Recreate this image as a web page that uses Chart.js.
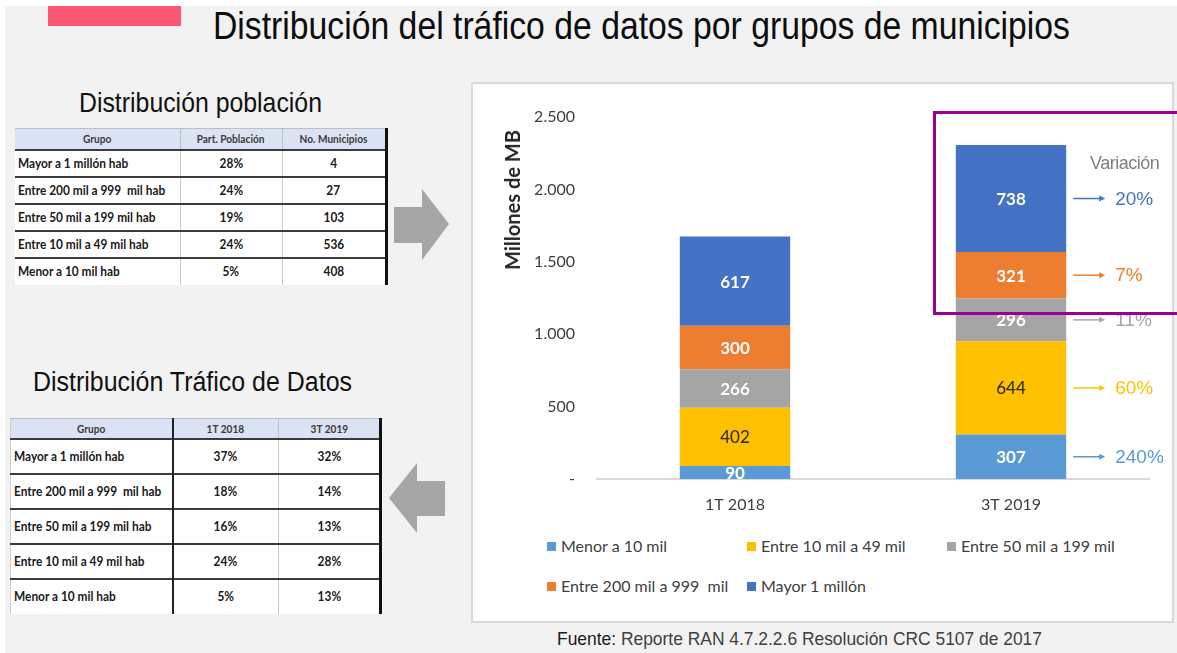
<!DOCTYPE html>
<html lang="es">
<head>
<meta charset="utf-8">
<script src="https://cdn.jsdelivr.net/npm/chart.js@4.4.0/dist/chart.umd.min.js"></script>
<style>
  body { margin: 0; width: 1177px; height: 653px; overflow: hidden; position: relative; background: #fff; font-family: 'Liberation Sans', Arial, sans-serif; }
  .slide { position: absolute; left: 5px; top: 6px; width: 1172px; height: 647px; background: #f2f2f2; }
  .pink { position: absolute; left: 48px; top: 6px; width: 133px; height: 20px; background: #fb5775; }
  .fit { position: absolute; white-space: pre; line-height: 1; transform-origin: left top; }
  .tbl { position: absolute; border-collapse: collapse; table-layout: fixed; font-family: Lato, sans-serif; }
  .tbl th { background: #dae3f3; color: #3a3a3a; font-size: 11.5px; font-weight: bold; border-top: 1px solid #bfbfbf; border-right: 1px solid #bfbfbf; padding: 0; text-align: center; }
  .tbl td { background: #fff; color: #1a1a1a; font-size: 12.5px; font-weight: bold; border-top: 2px solid #3b3b3b; border-right: 1px solid #c8c8c8; padding: 0; text-align: center; white-space: pre; }
  .tbl td:first-child { text-align: left; padding-left: 3px; }
  .tbl span { display: inline-block; transform: scaleX(0.95); }
  .tbl th span { transform: scaleX(0.88); }
  .tbl td:first-child span { transform-origin: left center; }
  .tbl td:last-child, .tbl th:last-child { border-right: 3px solid #111; }
  #t2 td:first-child, #t2 th:first-child { border-right: 2px solid #222; }
  #t2 { border-left: 1px solid #d0d0d0; }
  .panel { position: absolute; left: 471px; top: 82px; width: 699px; height: 537px; background: #fff; border: 2px solid #d9d9d9; }
  #chart { position: absolute; left: 472px; top: 82px; }
  .ytitle { position: absolute; left: 512px; top: 200px; transform: translate(-50%, -50%) rotate(-90deg); font-family: Lato, sans-serif; font-size: 20px; font-weight: bold; color: #262626; white-space: nowrap; }
  .variacion { position: absolute; left: 1090px; top: 153px; font-size: 18px; color: #7f7f7f; letter-spacing: -0.5px; }
  .purple { position: absolute; left: 933px; top: 111px; width: 260px; height: 198px; border: 3px solid #990099; }
  .legend { position: absolute; left: 547px; top: 536px; width: 620px; display: flex; flex-wrap: wrap; font-family: Lato, sans-serif; font-size: 16px; color: #404040; }
  .legend div { width: 200px; height: 40px; display: flex; align-items: flex-start; white-space: pre; line-height: 20px; }
  .legend i { display: inline-block; width: 9px; height: 9px; margin: 6px 5px 0 0; }
</style>
</head>
<body>
<div class="slide"></div>
<div class="pink"></div>
<div class="fit" style="left:213px; top:7px; font-size:38px; color:#0d0d0d;" data-fit="857">Distribución del tráfico de datos por grupos de municipios</div>

<div class="fit" style="left:79px; top:89px; font-size:28px; color:#111;" data-fit="243">Distribución población</div>
<table class="tbl" id="t1" style="left:15px; top:128px;"></table>

<div class="fit" style="left:33px; top:369px; font-size:27px; color:#111;" data-fit="319">Distribución Tráfico de Datos</div>
<table class="tbl" id="t2" style="left:10px; top:418px;"></table>

<svg style="position:absolute; left:0; top:0;" width="1177" height="653">
  <polygon points="394,207 422,207 422,189 449,224 422,260 422,243 394,243" fill="#a6a6a6"/>
  <polygon points="389,498 417,463 417,481 445,481 445,516 417,516 417,533" fill="#a6a6a6"/>
</svg>

<div class="panel"></div>
<canvas id="chart" width="700" height="430"></canvas>
<div class="ytitle">Millones de MB</div>
<div class="variacion">Variación</div>
<div class="purple"></div>
<div class="legend" id="legend"></div>

<div class="fit" style="left:557px; top:629px; font-size:19px; color:#404040;" data-fit="485"><span style="color:#1a1a1a">Fuente:</span> Reporte RAN 4.7.2.2.6 Resolución CRC 5107 de 2017</div>

<script>
// tablas
const grupos = ["Mayor a 1 millón hab", "Entre 200 mil a 999  mil hab", "Entre 50 mil a 199 mil hab", "Entre 10 mil a 49 mil hab", "Menor a 10 mil hab"];
const partPoblacion = ["28%", "24%", "19%", "24%", "5%"];
const noMunicipios = ["4", "27", "103", "536", "408"];
const trafico1T2018 = ["37%", "18%", "16%", "24%", "5%"];
const trafico3T2019 = ["32%", "14%", "13%", "28%", "13%"];

// grafico
const categories = ["1T 2018", "3T 2019"];
const seriesNames = ["Menor a 10 mil", "Entre 10 mil a 49 mil", "Entre 50 mil a 199 mil", "Entre 200 mil a 999  mil", "Mayor 1 millón"];
const menor10 = [90, 307];
const entre10y49 = [402, 644];
const entre50y199 = [266, 296];
const entre200y999 = [300, 321];
const mayor1millon = [617, 738];
const seriesColors = ["#5b9bd5", "#ffc000", "#a5a5a5", "#ed7d31", "#4472c4"];
const yTickLabels = ["-", "500", "1.000", "1.500", "2.000", "2.500"];
const variacion = ["240%", "60%", "11%", "7%", "20%"];

function fillTable(id, headers, cols, widths, headH, rowH) {
  const t = document.getElementById(id);
  let html = "<colgroup>" + widths.map(w => `<col style="width:${w}px">`).join("") + "</colgroup>";
  html += `<tr style="height:${headH}px">` + headers.map(h => `<th><span>${h}</span></th>`).join("") + "</tr>";
  grupos.forEach((g, i) => {
    html += `<tr style="height:${rowH}px">` + cols.map(c => `<td><span>${c[i]}</span></td>`).join("") + "</tr>";
  });
  t.innerHTML = html;
  t.style.width = widths.reduce((a, b) => a + b, 0) + "px";
}
fillTable("t1", ["Grupo", "Part. Población", "No. Municipios"], [grupos, partPoblacion, noMunicipios], [165, 102, 104], 21, 27);
fillTable("t2", ["Grupo", "1T 2018", "3T 2019"], [grupos, trafico1T2018, trafico3T2019], [162, 106, 102], 20, 35);

// leyenda
document.getElementById("legend").innerHTML = seriesNames
  .map((n, i) => `<div><i style="background:${seriesColors[i]}"></i>${n}</div>`).join("");

const seriesData = [menor10, entre10y49, entre50y199, entre200y999, mayor1millon];

const segmentLabels = {
  id: "segmentLabels",
  afterDatasetsDraw(chart) {
    const ctx = chart.ctx;
    ctx.save();
    ctx.textAlign = "center";
    ctx.textBaseline = "middle";
    chart.data.datasets.forEach((ds, i) => {
      chart.getDatasetMeta(i).data.forEach((bar, j) => {
        const yMid = (bar.y + bar.base) / 2;
        const dark = i === 1;
        ctx.font = (dark ? "" : "bold ") + "17px Lato";
        ctx.fillStyle = dark ? "#262626" : "#ffffff";
        ctx.fillText(String(ds.data[j]), bar.x, yMid + 1);
      });
    });
    // flechas de variación junto a la última barra
    const last = categories.length - 1;
    ctx.textAlign = "left";
    ctx.font = "19px 'Liberation Sans'";
    chart.data.datasets.forEach((ds, i) => {
      const bar = chart.getDatasetMeta(i).data[last];
      const y = (bar.y + bar.base) / 2;
      const x0 = bar.x + bar.width / 2 + 7;
      const x1 = x0 + 32;
      ctx.strokeStyle = seriesColors[i];
      ctx.fillStyle = seriesColors[i];
      ctx.lineWidth = 1.5;
      ctx.beginPath();
      ctx.moveTo(x0, y);
      ctx.lineTo(x1 - 4, y);
      ctx.stroke();
      ctx.beginPath();
      ctx.moveTo(x1, y);
      ctx.lineTo(x1 - 6, y - 3);
      ctx.lineTo(x1 - 6, y + 3);
      ctx.closePath();
      ctx.fill();
      ctx.fillText(variacion[i], x1 + 10, y + 1);
    });
    ctx.restore();
  }
};

new Chart(document.getElementById("chart"), {
  type: "bar",
  data: {
    labels: categories,
    datasets: seriesNames.map((name, i) => ({
      label: name,
      data: seriesData[i],
      backgroundColor: seriesColors[i],
      borderWidth: 0,
      categoryPercentage: 1,
      barPercentage: 0.4
    }))
  },
  options: {
    responsive: false,
    animation: false,
    layout: { padding: { top: 35, right: 23, left: 0, bottom: 0 } },
    plugins: {
      legend: { display: false },
      tooltip: { enabled: false }
    },
    scales: {
      x: {
        stacked: true,
        grid: { display: false, drawTicks: false },
        border: { color: "#d9d9d9", width: 2 },
        ticks: { padding: 16, color: "#404040", font: { family: "Lato", size: 16 } },
        afterFit(s) { s.height = 33; }
      },
      y: {
        stacked: true,
        min: 0,
        max: 2500,
        grid: { display: false, drawTicks: false },
        border: { display: false },
        ticks: {
          stepSize: 500,
          padding: 22,
          color: "#404040",
          font: { family: "Lato", size: 16 },
          callback: (v, i) => yTickLabels[i]
        },
        afterFit(s) { s.width = 125; }
      }
    }
  },
  plugins: [segmentLabels]
});

// ajustar ancho de los títulos
document.fonts.ready.then(() => {
  document.querySelectorAll("[data-fit]").forEach(el => {
    const w = el.getBoundingClientRect().width;
    el.style.transform = `scaleX(${+el.dataset.fit / w})`;
  });
});
</script>
</body>
</html>
